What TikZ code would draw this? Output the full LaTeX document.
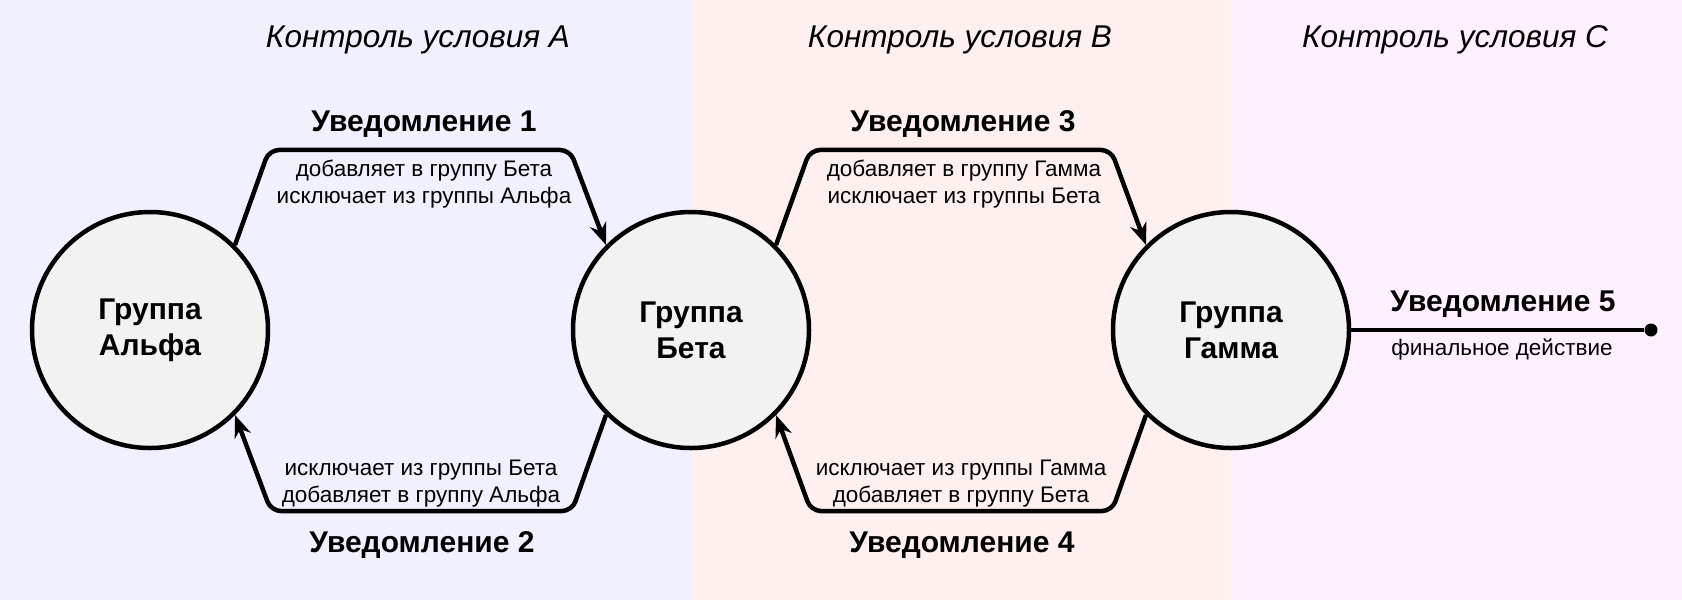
\documentclass[tikz,border=0pt]{standalone}
\usepackage{fontspec}
\setmainfont{Liberation Sans}
\usetikzlibrary{arrows.meta}
\definecolor{bandA}{HTML}{F0F0FF}
\definecolor{bandB}{HTML}{FFF0F0}
\definecolor{bandC}{HTML}{FFF0FF}
\definecolor{groupfill}{HTML}{F2F2F2}
\tikzset{
	group/.style={circle, draw, line width=4.5pt, fill=groupfill, minimum size=236pt, inner sep=0pt, align=center, font=\fontsize{30}{36}\selectfont\bfseries},
	notice/.style={inner sep=0pt, font=\fontsize{30}{34}\selectfont\bfseries},
	action/.style={inner sep=0pt, align=center, font=\fontsize{22.5}{27}\selectfont},
	cond/.style={inner sep=0pt, font=\fontsize{31.5}{36}\selectfont\itshape},
	flow/.style={line width=4.5pt, rounded corners=10pt, -{Stealth[length=22pt, width=17pt, inset=7pt]}}
}
\begin{document}
\begin{tikzpicture}[x=1pt, y=-1pt]
			\useasboundingbox (0,0) rectangle (1682,600);
			%condition bands
			\fill[bandA] (0,0) rectangle (691,600);
			\fill[bandB] (691,0) rectangle (1231,600);
			\fill[bandC] (1231,0) rectangle (1682,600);
			\node[cond] (condA) at (418, 40){Контроль условия A};
			\node[cond] (condB) at (960, 40){Контроль условия B};
			\node[cond] (condC) at (1455, 40){Контроль условия C};
			
			%groups
			\node[group] (alpha) at (150, 330){Группа\\Альфа};
			\node[group] (beta) at (691, 330){Группа\\Бета};
			\node[group] (gamma) at (1231, 330){Группа\\Гамма};
			
			\foreach \from/\to in {alpha/beta, beta/gamma}{
				\draw[flow] (\from.45) -- ++(34,-95) -- ++(301,0) -- (\to.135);
				\draw[flow] (\to.225) -- ++(-34,96) -- ++(-301,0) -- (\from.-45);
			}
			
			\node[notice] (n1) at (424, 124){Уведомление 1};
			\node[action] (a1) at (424, 184){добавляет в группу Бета\\исключает из группы Альфа};
			\node[notice] (n2) at (422, 545){Уведомление 2};
			\node[action] (a2) at (421, 484){исключает из группы Бета\\добавляет в группу Альфа};
			\node[notice] (n3) at (963, 124){Уведомление 3};
			\node[action] (a3) at (964, 184){добавляет в группу Гамма\\исключает из группы Бета};
			\node[notice] (n4) at (962, 545){Уведомление 4};
			\node[action] (a4) at (961, 484){исключает из группы Гамма\\добавляет в группу Бета};
			
			%final action
			\node[circle, fill, inner sep=0pt, minimum size=13pt] (fin) at (1651, 330){};
			\draw[line width=4.5pt] (gamma.east) -- (fin);
			\node[notice] (n5) at (1503, 304){Уведомление 5};
			\node[action] (a5) at (1502, 349){финальное действие};
		\end{tikzpicture}
\end{document}
